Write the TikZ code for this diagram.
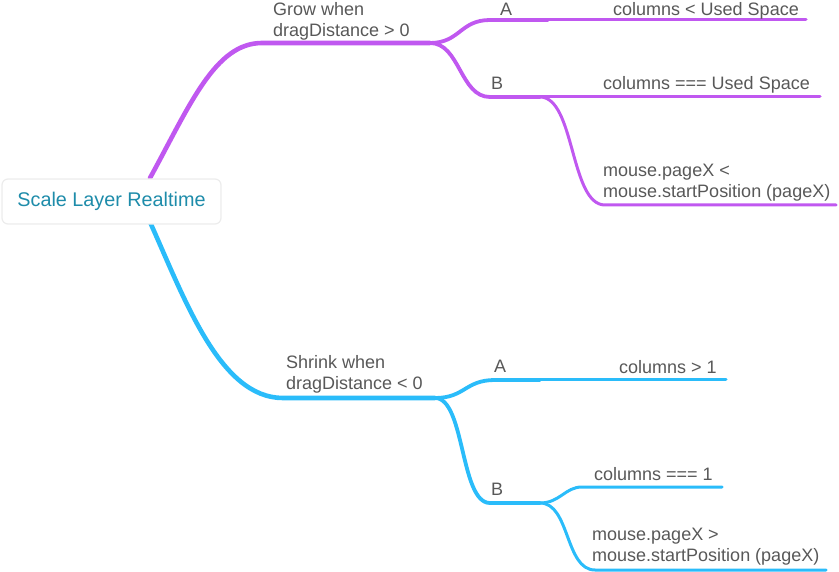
\documentclass[tikz,border=0pt]{standalone}
\usepackage{fontspec}
\setmainfont{Liberation Sans}
\definecolor{purp}{RGB}{192,88,240}
\definecolor{blu}{RGB}{42,188,250}
\definecolor{txt}{RGB}{88,88,88}
\definecolor{roottxt}{RGB}{30,140,170}
\definecolor{boxline}{RGB}{236,236,236}
\tikzset{
  lbl/.style={inner sep=0pt, text=txt, font=\fontsize{18}{21}\selectfont, align=left, anchor=north west},
  lblc/.style={inner sep=0pt, text=txt, font=\fontsize{18}{21}\selectfont, anchor=north},
  brA/.style={line width=4.6pt, line cap=round},
  brB/.style={line width=3.8pt, line cap=round},
  brC/.style={line width=3pt, line cap=round},
  rootbox/.style={draw=boxline, line width=1.2pt, fill=white, rounded corners=6pt,
    minimum width=219pt, minimum height=45pt, text=roottxt, font=\fontsize{19.8}{22}\selectfont}
}
\begin{document}
\begin{tikzpicture}[x=1pt,y=-1pt]
\useasboundingbox (0,0) rectangle (839,572);
% coordinates: purple
\coordinate (p0) at (150,178);
\coordinate (p1) at (262,43);
\coordinate (p2) at (430,43);
\coordinate (pA) at (490,20);
\coordinate (pAe) at (548,20);
\coordinate (pA1) at (806,20);
\coordinate (pB) at (490,97);
\coordinate (pBf) at (540,97);
\coordinate (pB1) at (820,97);
\coordinate (pB2) at (605,205);
\coordinate (pB2e) at (836,205);
% coordinates: blue
\coordinate (b0) at (150,222);
\coordinate (b1) at (283,398);
\coordinate (b2) at (435,398);
\coordinate (bA) at (495,380);
\coordinate (bAe) at (540,380);
\coordinate (bA1) at (726,380);
\coordinate (bB) at (490,503);
\coordinate (bBf) at (540,503);
\coordinate (bB1) at (582,487);
\coordinate (bB1e) at (722,487);
\coordinate (bB2) at (595,570);
\coordinate (bB2e) at (826,570);

% purple connectors
\draw[purp,brA] (p0) .. controls (190,105) and (215,43) .. (p1) -- (p2);
\draw[purp,brB] (p2) .. controls (460,43) and (460,20) .. (pA) -- (pAe);
\draw[purp,brC] (pAe) -- (pA1);
\draw[purp,brB] (p2) .. controls (460,43) and (460,97) .. (pB) -- (pBf);
\draw[purp,brC] (pBf) -- (pB1);
\draw[purp,brC] (pBf) .. controls (575,97) and (570,205) .. (pB2) -- (pB2e);
% blue connectors
\draw[blu,brA] (b0) .. controls (185,300) and (220,398) .. (b1) -- (b2);
\draw[blu,brB] (b2) .. controls (465,398) and (465,380) .. (bA) -- (bAe);
\draw[blu,brC] (bAe) -- (bA1);
\draw[blu,brB] (b2) .. controls (465,398) and (460,503) .. (bB) -- (bBf);
\draw[blu,brC] (bBf) .. controls (560,503) and (565,487) .. (bB1) -- (bB1e);
\draw[blu,brC] (bBf) .. controls (570,503) and (565,570) .. (bB2) -- (bB2e);

% root
\node[rootbox] (root) at (111.5,201.5) {Scale Layer Realtime};

% labels
\node[lbl] (grow) at (273,2) {Grow when\\dragDistance > 0};
\node[lblc] (growA) at (506,3) {A};
\node[lblc] (growB) at (497,77) {B};
\node[lbl] (gA1) at (613,2) {columns < Used Space};
\node[lbl] (gB1) at (603,76) {columns === Used Space};
\node[lbl] (gB2) at (603,164) {mouse.pageX <\\mouse.startPosition (pageX)};
\node[lbl] (shrink) at (286,355) {Shrink when\\dragDistance < 0};
\node[lblc] (shA) at (500,360) {A};
\node[lblc] (shB) at (497,483) {B};
\node[lbl] (sA1) at (619,360) {columns > 1};
\node[lbl] (sB1) at (594,467) {columns === 1};
\node[lbl] (sB2) at (592,528) {mouse.pageX >\\mouse.startPosition (pageX)};
\end{tikzpicture}
\end{document}
